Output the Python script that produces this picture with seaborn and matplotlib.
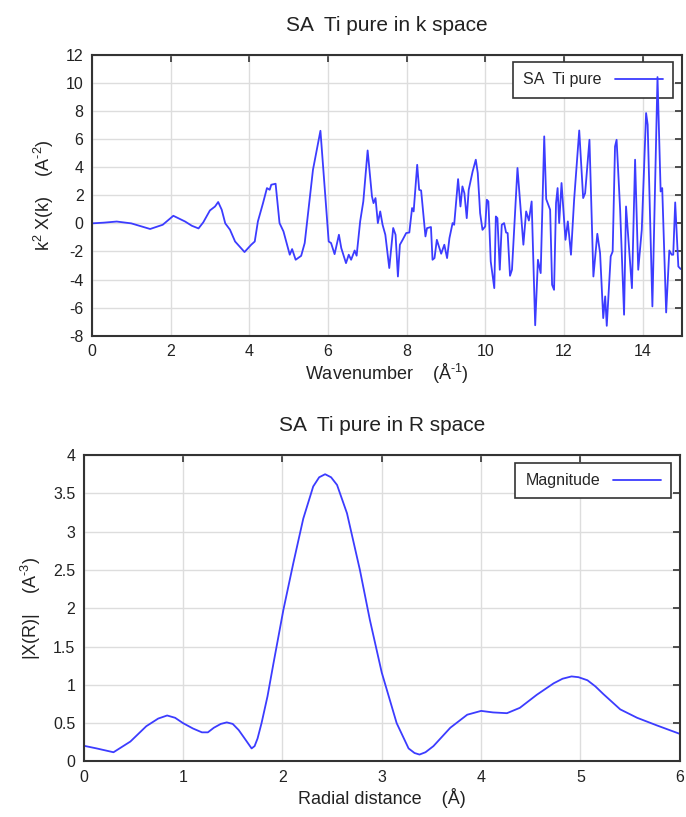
import numpy as np
import pandas as pd
import matplotlib
matplotlib.use('Agg')
import matplotlib.pyplot as plt
import seaborn as sns

# k space data
k_values = [0.0, 0.3, 0.63, 1.0, 1.48, 1.8, 2.07, 2.37, 2.54, 2.71, 2.83, 3.0, 3.13, 3.21, 3.3,
            3.39, 3.51, 3.64, 3.88, 4.05, 4.14, 4.22, 4.35, 4.45, 4.52, 4.56, 4.67, 4.77, 4.87,
            5.03, 5.09, 5.18, 5.32, 5.41, 5.62, 5.81, 5.94, 6.02, 6.08, 6.17, 6.28, 6.34, 6.46,
            6.53, 6.59, 6.68, 6.73, 6.82, 6.9, 7.01, 7.12, 7.16, 7.21, 7.27, 7.33, 7.39, 7.46,
            7.56, 7.66, 7.72, 7.78, 7.83, 7.9, 7.99, 8.07, 8.14, 8.18, 8.27, 8.32, 8.37, 8.48,
            8.52, 8.62, 8.66, 8.71, 8.77, 8.88, 8.96, 9.03, 9.09, 9.17, 9.21, 9.31, 9.37, 9.42,
            9.47, 9.53, 9.58, 9.68, 9.76, 9.81, 9.87, 9.93, 10.0, 10.04, 10.08, 10.14, 10.23,
            10.27, 10.31, 10.37, 10.42, 10.48, 10.53, 10.57, 10.63, 10.68, 10.82, 10.97, 11.04,
            11.11, 11.18, 11.27, 11.34, 11.41, 11.5, 11.55, 11.65, 11.7, 11.75, 11.8, 11.84,
            11.88, 11.94, 12.04, 12.1, 12.18, 12.26, 12.39, 12.49, 12.54, 12.65, 12.75, 12.85,
            12.92, 13.0, 13.05, 13.09, 13.19, 13.24, 13.3, 13.34, 13.43, 13.53, 13.58, 13.73,
            13.81, 13.89, 13.98, 14.09, 14.13, 14.25, 14.38, 14.46, 14.5, 14.6, 14.68, 14.74,
            14.78, 14.83, 14.91, 14.97]
chi_k = [0.0, 0.05, 0.13, 0.0, -0.4, -0.1, 0.54, 0.13, -0.17, -0.36, 0.07, 0.92, 1.2, 1.52, 0.97,
         0.0, -0.45, -1.29, -2.04, -1.52, -1.29, 0.14, 1.44, 2.51, 2.39, 2.75, 2.82, 0.02, -0.57,
         -2.23, -1.83, -2.59, -2.31, -1.4, 3.81, 6.59, 1.68, -1.29, -1.4, -2.19, -0.81, -1.76, -2.83,
         -2.23, -2.59, -1.93, -2.3, 0.14, 1.56, 5.19, 1.92, 1.44, 1.8, 0.02, 0.85, -0.1, -0.81,
         -3.18, -0.33, -0.81, -3.78, -1.52, -1.17, -0.69, -0.65, 1.09, 0.85, 4.17, 2.39, 2.34, -0.93,
         -0.34, -0.26, -2.59, -2.47, -1.17, -2.16, -1.52, -2.47, -1.05, 0.02, -0.1, 3.15, 1.2, 2.63,
         2.15, 0.37, 2.39, 3.7, 4.53, 3.58, 0.73, -0.46, -0.22, 1.68, 1.56, -2.71, -4.61,
         0.49, 0.37, -3.3, -0.1, 0.02, -0.65, -0.69, -3.73, -3.3, 3.94, -1.52, 0.85,
         0.2, 1.56, -7.25, -2.59, -3.54, 6.19, 1.73, 0.97, -4.37, -4.73, 1.44, 2.51,
         0.02, 2.87, -1.17, 0.14, -2.23, 1.68, 6.61, 1.8, 2.15, 5.95, -3.78, -0.74,
         -2.11, -6.74, -5.2, -7.29, -2.35, -2.0, 5.47, 5.95, 0.97, -6.5, 1.2, -4.61,
         4.53, -3.3, -0.46, 7.85, 7.02, -5.91, 10.41, 2.27, 2.51, -6.34, -1.93, -2.23,
         -2.23, 1.49, -3.07, -3.25]

# R space data
r_values = [0.0, 0.13, 0.30, 0.47, 0.63, 0.75, 0.84, 0.92, 1.0, 1.1, 1.19, 1.25, 1.31, 1.38,
            1.44, 1.5, 1.56, 1.62, 1.69, 1.72, 1.75, 1.79, 1.85, 1.91, 2.01, 2.11, 2.21, 2.31,
            2.37, 2.43, 2.49, 2.55, 2.65, 2.78, 2.88, 3.0, 3.15, 3.27, 3.33, 3.38, 3.44, 3.52,
            3.69, 3.86, 4.0, 4.12, 4.26, 4.39, 4.56, 4.73, 4.82, 4.91, 4.98, 5.07, 5.15, 5.23,
            5.40, 5.57, 5.77, 6.0]
chi_r = [0.205, 0.17, 0.12, 0.26, 0.46, 0.56, 0.6, 0.57, 0.5, 0.43, 0.38, 0.38, 0.44, 0.49,
         0.51, 0.49, 0.41, 0.3, 0.17, 0.2, 0.3, 0.5, 0.85, 1.28, 1.98, 2.59, 3.17, 3.59,
         3.71, 3.75, 3.71, 3.61, 3.24, 2.5, 1.85, 1.16, 0.5, 0.17, 0.11, 0.09, 0.12, 0.2,
         0.44, 0.61, 0.66, 0.64, 0.63, 0.70, 0.87, 1.02, 1.08, 1.11, 1.1, 1.06, 0.98, 0.88,
         0.68, 0.57, 0.47, 0.36]

k_ticks = [0, 2, 4, 6, 8, 10, 12, 14]
k_yticks = [-8, -6, -4, -2, 0, 2, 4, 6, 8, 10, 12]
r_ticks = [0, 1, 2, 3, 4, 5, 6]
r_yticks = [0, 0.5, 1, 1.5, 2, 2.5, 3, 3.5, 4]
r_yticklabels = ['0', '0.5', '1', '1.5', '2', '2.5', '3', '3.5', '4']

sns.set_style('white')
plt.rcParams['font.family'] = ['Liberation Sans', 'DejaVu Sans']
plt.rcParams['mathtext.fontset'] = 'custom'
plt.rcParams['mathtext.rm'] = 'Liberation Sans'
plt.rcParams['mathtext.it'] = 'Liberation Sans:italic'
plt.rcParams['axes.axisbelow'] = True
plt.rcParams['axes.unicode_minus'] = False

blue = '#3c3cff'
text_col = '#222222'

df_k = pd.DataFrame({'k': k_values, 'chi': chi_k})
df_r = pd.DataFrame({'r': r_values, 'mag': chi_r})

fig = plt.figure(figsize=(6.86, 8.17), dpi=100)
ax1 = fig.add_axes([0.134, 0.589, 0.860, 0.344])
ax2 = fig.add_axes([0.122, 0.068, 0.869, 0.375])


def style_axes(ax):
    ax.grid(True, color='#dddddd', linewidth=1.0)
    for sp in ax.spines.values():
        sp.set_color('#333333')
        sp.set_linewidth(1.5)
    ax.tick_params(direction='in', length=5, width=1.2, color='#333333',
                   top=True, right=True, labelsize=11.5, labelcolor=text_col, pad=6)


sns.lineplot(data=df_k, x='k', y='chi', ax=ax1, color=blue, linewidth=1.3,
             label='SA  Ti pure', sort=False)
style_axes(ax1)
ax1.set_xlim(0, 15)
ax1.set_ylim(-8, 12)
ax1.set_xticks(k_ticks)
ax1.set_yticks(k_yticks)
ax1.set_title('SA  Ti pure in k space', fontsize=15, color=text_col, pad=17)
ax1.set_xlabel('Wavenumber    (Å$^{\u2010 1}$)', fontsize=13, color=text_col, labelpad=2)
ax1.set_ylabel('k$^{2}$ X(k)    (A$^{\u2010 2}$)', fontsize=13, color=text_col, labelpad=7)
leg1 = ax1.legend(loc='upper right', bbox_to_anchor=(0.985, 0.975), borderaxespad=0,
                  markerfirst=False, fancybox=False, edgecolor='#333333', framealpha=1,
                  fontsize=11.5, handlelength=3.0, borderpad=0.65)
leg1.get_frame().set_linewidth(1.2)
leg1.set_zorder(1.8)

sns.lineplot(data=df_r, x='r', y='mag', ax=ax2, color=blue, linewidth=1.3,
             label='Magnitude', sort=False)
style_axes(ax2)
ax2.set_xlim(0, 6)
ax2.set_ylim(0, 4)
ax2.set_xticks(r_ticks)
ax2.set_yticks(r_yticks)
ax2.set_yticklabels(r_yticklabels)
ax2.set_title('SA  Ti pure in R space', fontsize=15, color=text_col, pad=17)
ax2.set_xlabel('Radial distance    (Å)', fontsize=13, color=text_col, labelpad=2)
ax2.set_ylabel('|X(R)|    (A$^{\u2010 3}$)', fontsize=13, color=text_col, labelpad=7)
leg2 = ax2.legend(loc='upper right', bbox_to_anchor=(0.986, 0.975), borderaxespad=0,
                  markerfirst=False, fancybox=False, edgecolor='#333333', framealpha=1,
                  fontsize=11.5, handlelength=3.0, borderpad=0.65)
leg2.get_frame().set_linewidth(1.2)
leg2.set_zorder(1.8)

fig.savefig('out.png', dpi=100)
